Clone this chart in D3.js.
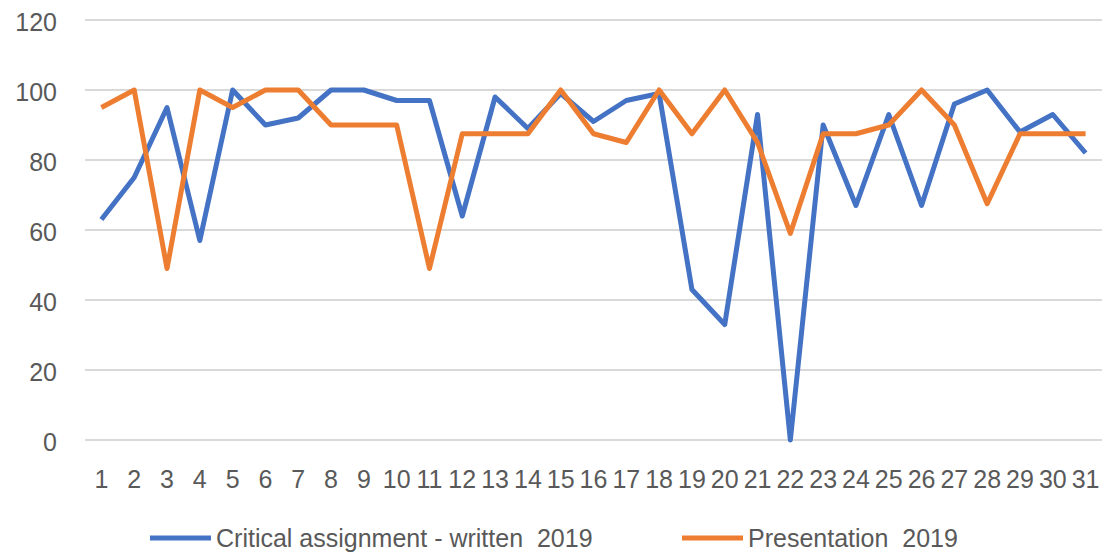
<!DOCTYPE html>
<html>
<head>
<meta charset="UTF-8">
<script src="https://d3js.org/d3.v7.min.js"></script>
<style>
body { margin: 0; background: #fff; }
.axis .domain, .axis line { display: none; }
.axis text { fill: #595959; font-family: "Liberation Sans", Arial, sans-serif; font-size: 25px; }
</style>
</head>
<body>
<svg width="1105" height="554"></svg>
<script>

var days = d3.range(1, 32).map(String);
var yTicks = [0, 20, 40, 60, 80, 100, 120];

var written = [63, 75, 95, 57, 100, 90, 92, 100, 100, 97, 97, 64, 98, 89, 99, 91, 97, 99, 43, 33,
               93, 0, 90, 67, 93, 67, 96, 100, 88, 93, 82];
var presentation = [95, 100, 49, 100, 95, 100, 100, 90, 90, 90, 49, 87.5, 87.5, 87.5, 100, 87.5, 85, 100, 87.5, 100,
                    85, 59, 87.5, 87.5, 90, 100, 90, 67.5, 87.5, 87.5, 87.5];

var seriesNames = ["Critical assignment - written  2019", "Presentation  2019"];
var colors = ["#4472C4", "#ED7D31"];

var svg = d3.select("svg"),
    margin = {top: 20, right: 3, bottom: 114, left: 85},
    width = +svg.attr("width") - margin.left - margin.right,
    height = +svg.attr("height") - margin.top - margin.bottom,
    g = svg.append("g").attr("transform", "translate(" + margin.left + "," + margin.top + ")");

var x = d3.scaleBand().domain(days).range([0, width]);
var y = d3.scaleLinear().domain([0, 120]).range([height, 0]);

// gridlines
g.append("g")
  .selectAll("line")
  .data(yTicks)
  .enter().append("line")
    .attr("x1", 0)
    .attr("x2", width)
    .attr("y1", function(d) { return y(d); })
    .attr("y2", function(d) { return y(d); })
    .attr("stroke", "#d9d9d9")
    .attr("stroke-width", 2);

g.append("g")
    .attr("class", "axis")
    .attr("transform", "translate(-25,2)")
    .call(d3.axisLeft(y).tickValues(yTicks).tickSize(0));

g.append("g")
    .attr("class", "axis")
    .attr("transform", "translate(0," + (height + 27) + ")")
    .call(d3.axisBottom(x).tickSize(0));

var line = d3.line()
    .x(function(d, i) { return x(days[i]) + x.bandwidth() / 2; })
    .y(function(d) { return y(d); });

[written, presentation].forEach(function(s, k) {
  g.append("path")
    .datum(s)
    .attr("fill", "none")
    .attr("stroke", colors[k])
    .attr("stroke-width", 5)
    .attr("stroke-linejoin", "round")
    .attr("d", line);
});

// legend
var legendX = [150, 682];
var legend = svg.append("g")
  .selectAll("g")
  .data(seriesNames)
  .enter().append("g")
    .attr("transform", function(d, i) { return "translate(" + legendX[i] + ",538)"; });

legend.append("line")
    .attr("x1", 0)
    .attr("x2", 61)
    .attr("stroke", function(d, i) { return colors[i]; })
    .attr("stroke-width", 5);

legend.append("text")
    .attr("x", 66)
    .attr("dy", "0.35em")
    .attr("fill", "#595959")
    .attr("font-family", "Liberation Sans, Arial, sans-serif")
    .attr("font-size", 25)
    .style("white-space", "pre")
    .text(function(d) { return d; });

</script>
</body>
</html>
